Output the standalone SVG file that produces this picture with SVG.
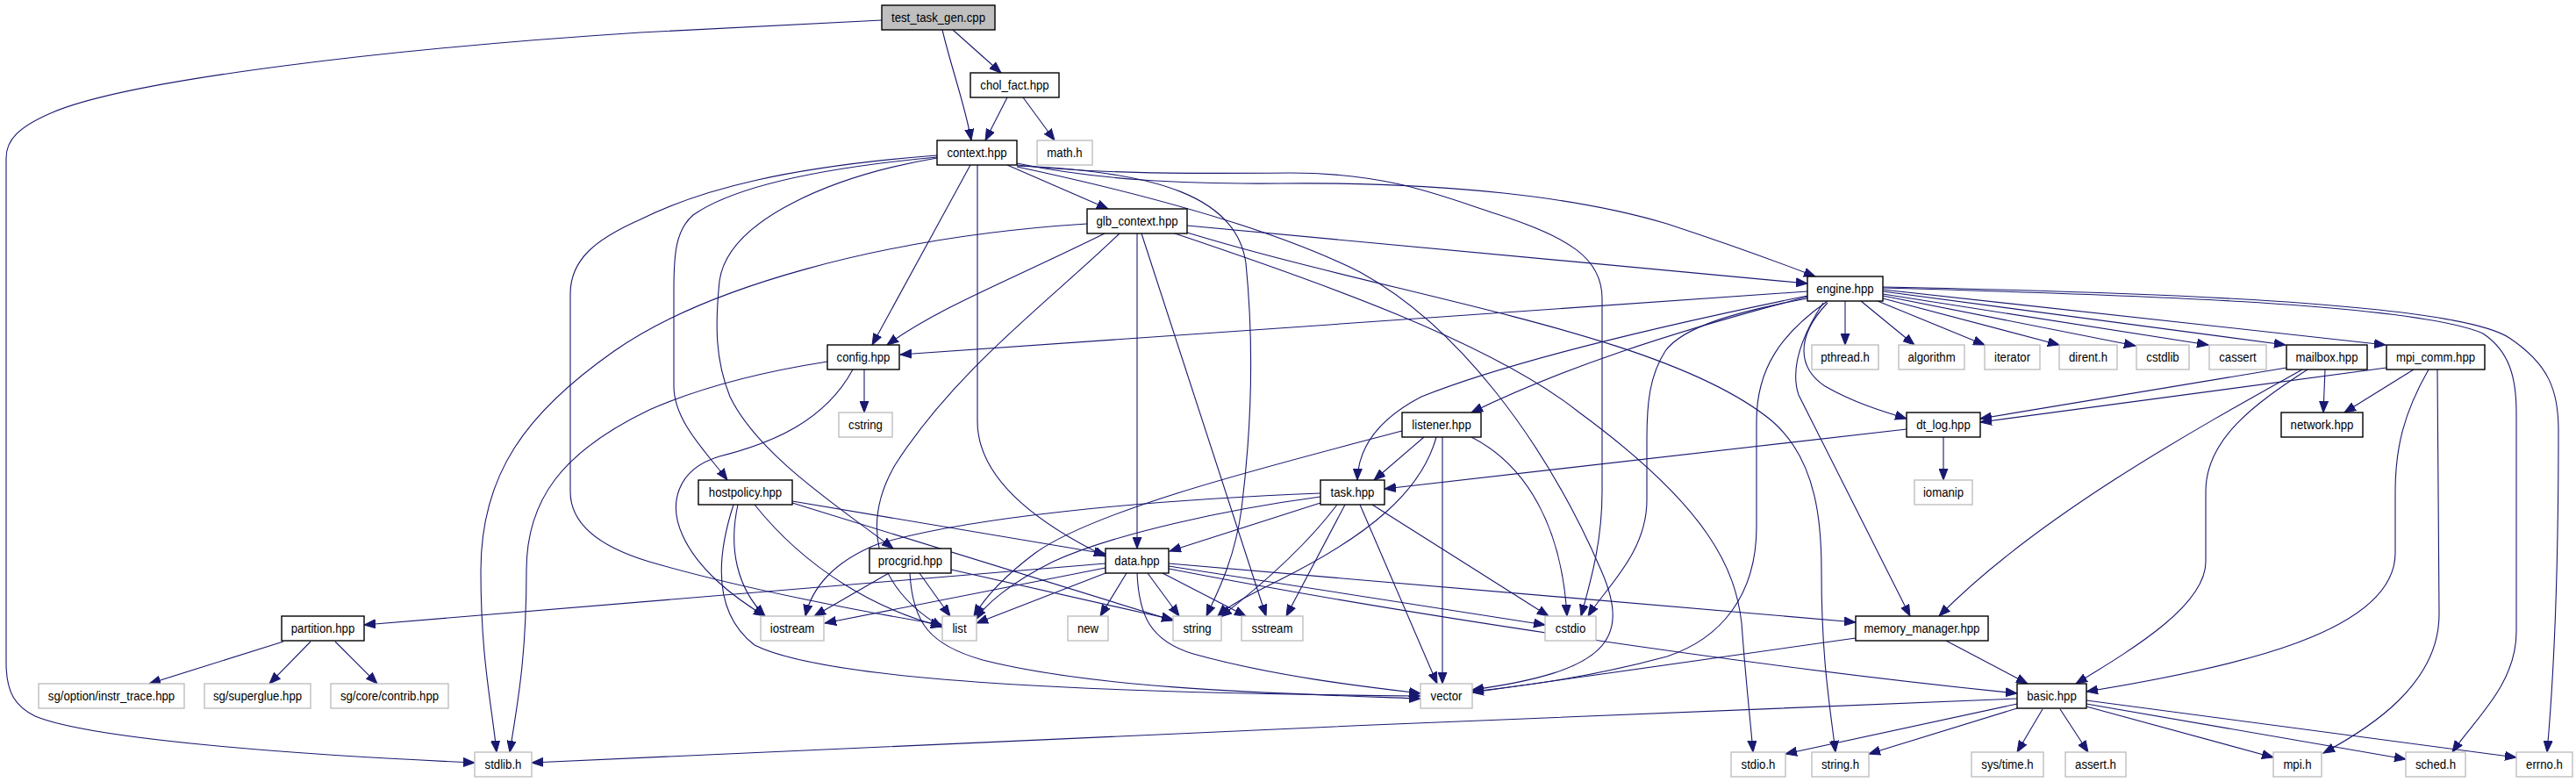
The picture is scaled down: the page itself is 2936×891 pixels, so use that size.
<svg xmlns="http://www.w3.org/2000/svg" width="2936" height="891" viewBox="0 0 2936 891">
<style>
.node rect{fill:#ffffff;stroke:#000000;stroke-width:1.4}
.ext rect{fill:#ffffff;stroke:#bfbfbf;stroke-width:1.4}
.root rect{fill:#bfbfbf;stroke:#000000;stroke-width:1.4}
text{font-family:"Liberation Sans",Arial,sans-serif;font-size:15px;fill:#000000;text-anchor:middle}
#edges path{fill:none;stroke:#191970;stroke-width:1.1;marker-end:url(#arr)}
</style>
<defs>
<marker id="arr" markerUnits="userSpaceOnUse" markerWidth="14" markerHeight="11" viewBox="0 0 14 11" refX="13" refY="5.5" orient="auto">
<path d="M0,0.5 L13,5.5 L0,10.5 z" fill="#191970" stroke="#191970" stroke-width="1"/>
</marker>
</defs>
<rect x="0" y="0" width="2936" height="891" fill="#ffffff"/>
<g id="edges">
<path d="M1005,23 L730,37 C450,55 150,90 60,128 C20,145 7,160 7,180 L7,755 C7,790 18,805 40,816 C110,845 380,862 541,869"/>
<path d="M1086,34 L1141,83"/>
<path d="M1074,34 C1085,80 1100,120 1107,160"/>
<path d="M1148,111 L1123,160"/>
<path d="M1166,111 L1202,160"/>
<path d="M1148,188 L1263,238"/>
<path d="M1106,188 L994,393"/>
<path d="M1114,188 L1114,480 C1114,545 1180,595 1260,634"/>
<path d="M1159,186 C1250,205 1350,210 1460,209 C1650,207 1800,225 1900,255 C1970,278 2030,300 2069,315"/>
<path d="M1159,188 C1250,198 1350,198 1470,197 C1580,197 1640,222 1700,242 C1790,270 1826,295 1826,340 L1826,560 C1826,620 1812,665 1802,702"/>
<path d="M1159,189 C1320,195 1410,225 1420,300 C1430,400 1425,500 1415,580 C1407,640 1385,680 1375,702"/>
<path d="M1159,190 C1300,220 1450,260 1550,310 C1660,370 1760,500 1825,650 C1860,730 1830,765 1678,786"/>
<path d="M1068,179 C950,190 840,210 790,245 C770,262 768,290 768,330 L768,440 C768,480 805,515 829,547"/>
<path d="M1068,180 C950,200 830,250 820,320 C815,370 815,410 832,452 C865,520 960,580 1018,625"/>
<path d="M1068,177 C900,190 800,215 730,250 C680,272 650,295 650,335 L650,560 C650,600 690,625 740,640 C850,672 1000,700 1074,712"/>
<path d="M1259,266 C1150,320 1070,350 1011,393"/>
<path d="M1296,266 L1296,625"/>
<path d="M1276,266 C1200,340 1090,420 1020,530 C985,590 990,665 1074,715"/>
<path d="M1301,266 L1443,702"/>
<path d="M1239,255 C1000,270 800,330 700,400 C600,470 548,540 548,650 C548,750 560,800 566,857"/>
<path d="M1353,257 L2060,323"/>
<path d="M1353,265 C1600,340 1900,380 2020,480 C2072,525 2076,600 2076,650 C2076,750 2085,800 2092,857"/>
<path d="M1339,266 C1500,320 1700,390 1800,470 C1950,580 1978,650 1985,710 C1990,780 1995,820 1998,857"/>
<path d="M985,421 L985,470"/>
<path d="M972,421 C940,480 880,505 820,520 C770,535 762,575 778,610 C795,648 835,680 872,702"/>
<path d="M943,412 C860,425 790,445 740,467 C640,515 600,570 600,650 C600,750 590,800 581,857"/>
<path d="M2060,332 L1026,404"/>
<path d="M2060,337 C1850,380 1700,420 1620,452 C1570,478 1548,510 1547,547"/>
<path d="M2060,338 C1900,380 1780,420 1677,470"/>
<path d="M2060,340 C1980,355 1918,372 1898,400 C1880,428 1877,460 1877,500 L1877,570 C1877,630 1830,670 1810,702"/>
<path d="M2083,343 C2030,380 2002,420 2002,480 L2002,600 C2002,680 1960,728 1900,748 C1800,775 1720,783 1678,788"/>
<path d="M2078,345 C2052,385 2040,420 2050,450 L2177,702"/>
<path d="M2083,345 C2045,385 2050,420 2080,440 C2115,460 2150,470 2173,477"/>
<path d="M2103,343 L2103,393"/>
<path d="M2121,343 L2182,393"/>
<path d="M2140,343 L2262,393"/>
<path d="M2146,340 L2347,393"/>
<path d="M2146,337 L2434,394"/>
<path d="M2146,335 L2517,393"/>
<path d="M2146,332 L2605,393"/>
<path d="M2146,330 L2719,393"/>
<path d="M2146,328 C2400,335 2750,345 2830,380 C2860,400 2868,430 2868,470 L2868,720 C2868,780 2820,820 2795,857"/>
<path d="M2146,327 C2450,333 2800,345 2860,385 C2905,415 2916,445 2916,490 C2916,650 2910,780 2903,857"/>
<path d="M1598,491 C1450,530 1250,580 1180,630 C1140,660 1120,685 1110,702"/>
<path d="M1623,498 L1566,547"/>
<path d="M1637,498 C1620,560 1560,610 1460,660 C1420,680 1400,690 1388,702"/>
<path d="M1644,498 L1644,779"/>
<path d="M1677,498 C1740,530 1780,600 1786,702"/>
<path d="M1505,562 C1300,570 1100,590 1000,620 C950,640 925,670 918,702"/>
<path d="M1505,566 C1400,580 1270,608 1200,640 C1150,665 1122,690 1112,706"/>
<path d="M1505,573 L1333,628"/>
<path d="M1524,575 C1490,620 1440,665 1391,703"/>
<path d="M1533,575 L1466,702"/>
<path d="M1550,575 L1638,779"/>
<path d="M1564,575 L1765,702"/>
<path d="M2215,498 L2215,547"/>
<path d="M2173,489 L1578,557"/>
<path d="M2650,421 L2648,470"/>
<path d="M2606,419 L2257,477"/>
<path d="M2624,421 C2500,490 2320,590 2210,702"/>
<path d="M2630,421 C2570,460 2514,500 2514,560 L2514,640 C2514,690 2430,740 2366,779"/>
<path d="M2720,419 L2257,481"/>
<path d="M2751,421 L2672,470"/>
<path d="M2768,421 C2740,470 2730,510 2730,560 L2730,630 C2730,720 2550,760 2378,788"/>
<path d="M2778,421 L2780,700 C2780,780 2700,830 2648,858"/>
<path d="M2218,730 L2311,779"/>
<path d="M2115,727 L1678,789"/>
<path d="M2299,796 C1800,815 1000,850 606,869"/>
<path d="M2299,802 L2035,859"/>
<path d="M2299,807 L2130,859"/>
<path d="M2328,808 L2299,857"/>
<path d="M2348,808 L2380,857"/>
<path d="M2378,805 L2591,863"/>
<path d="M2378,802 L2742,865"/>
<path d="M2378,798 L2868,863"/>
<path d="M1260,642 C900,670 600,695 415,712"/>
<path d="M1260,647 L940,710"/>
<path d="M1260,653 L1113,710"/>
<path d="M1284,653 L1254,702"/>
<path d="M1308,653 L1344,702"/>
<path d="M1325,653 L1420,702"/>
<path d="M1296,653 C1298,700 1310,730 1360,745 C1450,770 1550,782 1619,790"/>
<path d="M1332,642 L2115,709"/>
<path d="M1332,645 L1761,712"/>
<path d="M1332,648 C1600,700 2000,760 2299,790"/>
<path d="M903,571 L1260,631"/>
<path d="M903,573 L1337,707"/>
<path d="M841,575 C830,625 840,670 872,702"/>
<path d="M860,575 C920,650 1000,695 1074,714"/>
<path d="M836,575 C815,640 815,700 860,735 C950,780 1300,790 1619,793"/>
<path d="M1013,653 L928,702"/>
<path d="M1048,653 L1083,702"/>
<path d="M1037,653 C1040,710 1060,735 1120,752 C1250,785 1450,790 1619,796"/>
<path d="M1084,649 L1337,706"/>
<path d="M323,731 L170,779"/>
<path d="M354,731 L307,779"/>
<path d="M382,731 L430,779"/>
</g>
<g id="n_test_task_gen" class="root"><rect x="1005" y="6" width="129" height="28"/><text transform="translate(1069.5,25) scale(0.88,1)">test_task_gen.cpp</text></g>
<g id="n_chol_fact" class="node"><rect x="1106" y="83" width="101" height="28"/><text transform="translate(1156.5,102) scale(0.88,1)">chol_fact.hpp</text></g>
<g id="n_context" class="node"><rect x="1068" y="160" width="91" height="28"/><text transform="translate(1113.5,179) scale(0.88,1)">context.hpp</text></g>
<g id="n_math" class="ext"><rect x="1182" y="160" width="63" height="28"/><text transform="translate(1213.5,179) scale(0.88,1)">math.h</text></g>
<g id="n_glb_context" class="node"><rect x="1239" y="238" width="114" height="28"/><text transform="translate(1296,257) scale(0.88,1)">glb_context.hpp</text></g>
<g id="n_engine" class="node"><rect x="2060" y="315" width="86" height="28"/><text transform="translate(2103,334) scale(0.88,1)">engine.hpp</text></g>
<g id="n_config" class="node"><rect x="943" y="393" width="82" height="28"/><text transform="translate(984,412) scale(0.88,1)">config.hpp</text></g>
<g id="n_pthread" class="ext"><rect x="2065" y="393" width="76" height="28"/><text transform="translate(2103,412) scale(0.88,1)">pthread.h</text></g>
<g id="n_algorithm" class="ext"><rect x="2164" y="393" width="75" height="28"/><text transform="translate(2201.5,412) scale(0.88,1)">algorithm</text></g>
<g id="n_iterator" class="ext"><rect x="2262" y="393" width="63" height="28"/><text transform="translate(2293.5,412) scale(0.88,1)">iterator</text></g>
<g id="n_dirent" class="ext"><rect x="2347" y="393" width="66" height="28"/><text transform="translate(2380,412) scale(0.88,1)">dirent.h</text></g>
<g id="n_cstdlib" class="ext"><rect x="2435" y="393" width="60" height="28"/><text transform="translate(2465,412) scale(0.88,1)">cstdlib</text></g>
<g id="n_cassert" class="ext"><rect x="2518" y="393" width="65" height="28"/><text transform="translate(2550.5,412) scale(0.88,1)">cassert</text></g>
<g id="n_mailbox" class="node"><rect x="2606" y="393" width="92" height="28"/><text transform="translate(2652,412) scale(0.88,1)">mailbox.hpp</text></g>
<g id="n_mpi_comm" class="node"><rect x="2720" y="393" width="112" height="28"/><text transform="translate(2776,412) scale(0.88,1)">mpi_comm.hpp</text></g>
<g id="n_cstring" class="ext"><rect x="956" y="470" width="61" height="28"/><text transform="translate(986.5,489) scale(0.88,1)">cstring</text></g>
<g id="n_listener" class="node"><rect x="1598" y="470" width="90" height="28"/><text transform="translate(1643,489) scale(0.88,1)">listener.hpp</text></g>
<g id="n_dt_log" class="node"><rect x="2173" y="470" width="84" height="28"/><text transform="translate(2215,489) scale(0.88,1)">dt_log.hpp</text></g>
<g id="n_network" class="node"><rect x="2600" y="470" width="93" height="28"/><text transform="translate(2646.5,489) scale(0.88,1)">network.hpp</text></g>
<g id="n_hostpolicy" class="node"><rect x="796" y="547" width="107" height="28"/><text transform="translate(849.5,566) scale(0.88,1)">hostpolicy.hpp</text></g>
<g id="n_task" class="node"><rect x="1505" y="547" width="73" height="28"/><text transform="translate(1541.5,566) scale(0.88,1)">task.hpp</text></g>
<g id="n_iomanip" class="ext"><rect x="2182" y="547" width="66" height="28"/><text transform="translate(2215,566) scale(0.88,1)">iomanip</text></g>
<g id="n_procgrid" class="node"><rect x="991" y="625" width="93" height="28"/><text transform="translate(1037.5,644) scale(0.88,1)">procgrid.hpp</text></g>
<g id="n_data" class="node"><rect x="1260" y="625" width="72" height="28"/><text transform="translate(1296,644) scale(0.88,1)">data.hpp</text></g>
<g id="n_partition" class="node"><rect x="321" y="702" width="94" height="28"/><text transform="translate(368,721) scale(0.88,1)">partition.hpp</text></g>
<g id="n_iostream" class="ext"><rect x="867" y="702" width="72" height="28"/><text transform="translate(903,721) scale(0.88,1)">iostream</text></g>
<g id="n_list" class="ext"><rect x="1074" y="702" width="39" height="28"/><text transform="translate(1093.5,721) scale(0.88,1)">list</text></g>
<g id="n_new" class="ext"><rect x="1217" y="702" width="46" height="28"/><text transform="translate(1240,721) scale(0.88,1)">new</text></g>
<g id="n_string" class="ext"><rect x="1337" y="702" width="55" height="28"/><text transform="translate(1364.5,721) scale(0.88,1)">string</text></g>
<g id="n_sstream" class="ext"><rect x="1415" y="702" width="70" height="28"/><text transform="translate(1450,721) scale(0.88,1)">sstream</text></g>
<g id="n_cstdio" class="ext"><rect x="1761" y="702" width="58" height="28"/><text transform="translate(1790,721) scale(0.88,1)">cstdio</text></g>
<g id="n_memory_manager" class="node"><rect x="2115" y="702" width="151" height="28"/><text transform="translate(2190.5,721) scale(0.88,1)">memory_manager.hpp</text></g>
<g id="n_instr_trace" class="ext"><rect x="44" y="779" width="166" height="28"/><text transform="translate(127,798) scale(0.88,1)">sg/option/instr_trace.hpp</text></g>
<g id="n_superglue" class="ext"><rect x="233" y="779" width="121" height="28"/><text transform="translate(293.5,798) scale(0.88,1)">sg/superglue.hpp</text></g>
<g id="n_contrib" class="ext"><rect x="377" y="779" width="134" height="28"/><text transform="translate(444,798) scale(0.88,1)">sg/core/contrib.hpp</text></g>
<g id="n_vector" class="ext"><rect x="1619" y="779" width="59" height="28"/><text transform="translate(1648.5,798) scale(0.88,1)">vector</text></g>
<g id="n_basic" class="node"><rect x="2299" y="779" width="79" height="28"/><text transform="translate(2338.5,798) scale(0.88,1)">basic.hpp</text></g>
<g id="n_stdlib" class="ext"><rect x="541" y="857" width="65" height="28"/><text transform="translate(573.5,876) scale(0.88,1)">stdlib.h</text></g>
<g id="n_stdio" class="ext"><rect x="1973" y="857" width="62" height="28"/><text transform="translate(2004,876) scale(0.88,1)">stdio.h</text></g>
<g id="n_string_h" class="ext"><rect x="2065" y="857" width="65" height="28"/><text transform="translate(2097.5,876) scale(0.88,1)">string.h</text></g>
<g id="n_systime" class="ext"><rect x="2247" y="857" width="82" height="28"/><text transform="translate(2288,876) scale(0.88,1)">sys/time.h</text></g>
<g id="n_assert" class="ext"><rect x="2354" y="857" width="69" height="28"/><text transform="translate(2388.5,876) scale(0.88,1)">assert.h</text></g>
<g id="n_mpi" class="ext"><rect x="2591" y="857" width="55" height="28"/><text transform="translate(2618.5,876) scale(0.88,1)">mpi.h</text></g>
<g id="n_sched" class="ext"><rect x="2742" y="857" width="68" height="28"/><text transform="translate(2776,876) scale(0.88,1)">sched.h</text></g>
<g id="n_errno" class="ext"><rect x="2868" y="857" width="64" height="28"/><text transform="translate(2900,876) scale(0.88,1)">errno.h</text></g>
</svg>
